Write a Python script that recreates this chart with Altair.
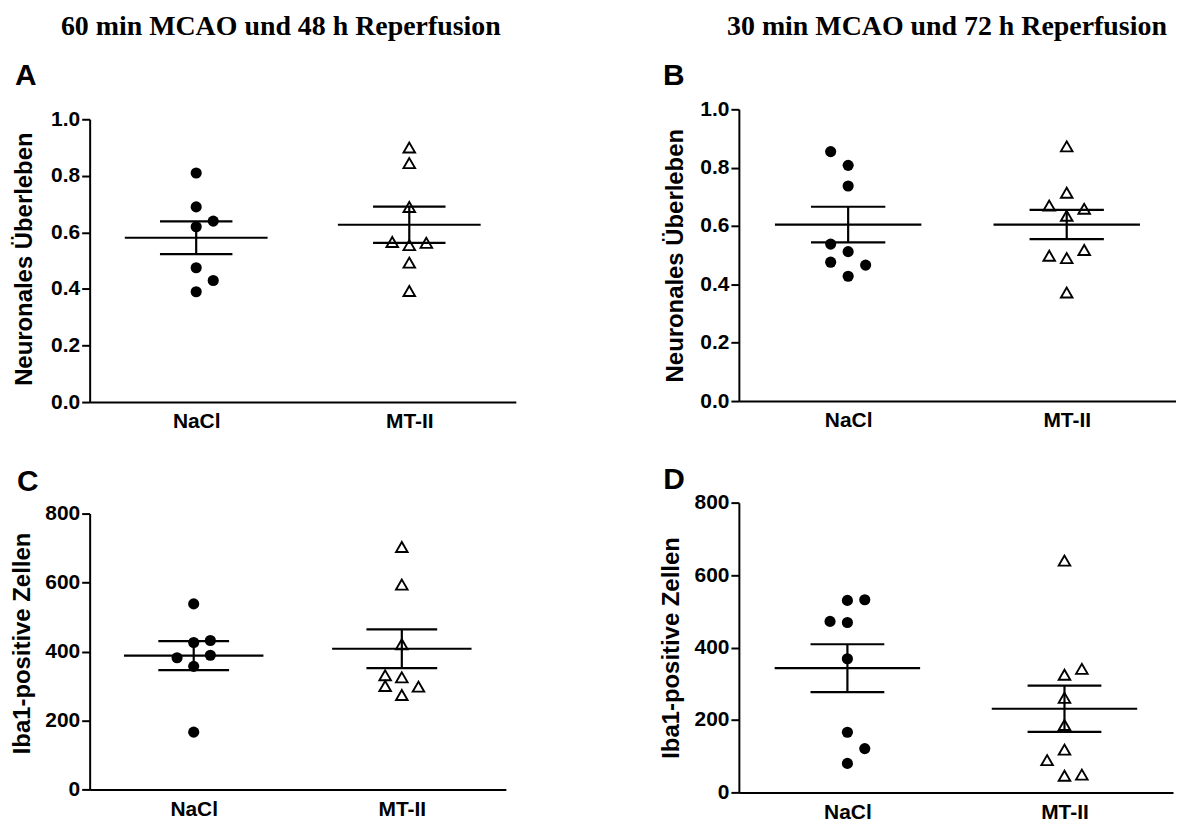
import altair as alt
import pandas as pd

GROUPS = ["NaCl", "MT-II"]
LETTERS = ["A", "B", "C", "D"]
COL_TITLES = ["60 min MCAO und 48 h Reperfusion", "30 min MCAO und 72 h Reperfusion"]
Y_TITLES = ["Neuronales Überleben", "Iba1-positive Zellen"]
Y_TICKS_SURV = [0.0, 0.2, 0.4, 0.6, 0.8, 1.0]
Y_TICKS_IBA = [0, 200, 400, 600, 800]

# ---- Panel A: 60 min MCAO, Neuronales Überleben ----
A_nacl = [0.81, 0.69, 0.64, 0.62, 0.475, 0.43, 0.39]
A_nacl_slot = [0, 0, 1, 0, 0, 1, 0]
A_mt = [0.90, 0.845, 0.69, 0.566, 0.555, 0.563, 0.493, 0.393]
A_mt_slot = [0, 0, 0, -1, 0, 1, 0, 0]
A_mean = [0.581, 0.627]
A_sem = [0.058, 0.064]

# ---- Panel B: 30 min MCAO, Neuronales Überleben ----
B_nacl = [0.855, 0.808, 0.737, 0.538, 0.512, 0.476, 0.466, 0.428]
B_nacl_slot = [-1, 0, 0, -1, 0, -1, 1, 0]
B_mt = [0.873, 0.714, 0.670, 0.659, 0.635, 0.518, 0.498, 0.490, 0.372]
B_mt_slot = [0, 0, -1, 1, 0, 1, -1, 0, 0]
B_mean = [0.605, 0.605]
B_sem = [0.061, 0.050]

# ---- Panel C: 60 min MCAO, Iba1-positive Zellen ----
C_nacl = [538, 426, 432, 382, 389, 357, 166]
C_nacl_slot = [0, 0, 1, -1, 1, 0, 0]
C_mt = [703, 594, 421, 331, 325, 300, 298, 274]
C_mt_slot = [0, 0, 0, -1, 0, -1, 1, 0]
C_mean = [388, 408]
C_sem = [42, 56]

# ---- Panel D: 30 min MCAO, Iba1-positive Zellen ----
D_nacl = [530, 532, 472, 469, 369, 166, 121, 80]
D_nacl_slot = [0, 1, -1, 0, 0, 0, 1, 0]
D_mt = [640, 341, 325, 261, 186, 118, 89, 46, 49]
D_mt_slot = [0, 1, 0, 0, 0, 0, -1, 0, 1]
D_mean = [343, 231]
D_sem = [66, 64]

SANS = "Liberation Sans"
SERIF = "Liberation Serif"
SLOT_W = 0.08
MEAN_HW = 0.335
CAP_HW = 0.17


def make_panel(letter, nacl, nacl_slot, mt, mt_slot, mean, sem, ytitle, yticks, yfmt,
               width, height, top_gap, letter_xy, title_x, title_y=None,
               col_title=None, col_xy=None):
    pts = pd.DataFrame({
        "g": [1] * len(nacl) + [2] * len(mt),
        "v": nacl + mt,
        "slot": nacl_slot + mt_slot,
    })
    summ = pd.DataFrame({"g": [1, 2], "m": mean, "s": sem})

    xscale = alt.Scale(domain=[0.5, 2.5], nice=False, zero=False)
    yscale = alt.Scale(domain=[yticks[0], yticks[-1]], nice=False, zero=True,
                       range=[height, top_gap])
    xaxis = alt.Axis(values=[1, 2], ticks=False, tickSize=0, labelPadding=9, title=None,
                     labelExpr=f"datum.value == 1 ? '{GROUPS[0]}' : '{GROUPS[1]}'",
                     labelFontSize=21, grid=False)
    yargs = dict(values=yticks, format=yfmt, title=ytitle, titleX=title_x,
                 titleBaseline="alphabetic", titleAngle=270, titleFontSize=24,
                 tickSize=8, labelPadding=2, labelFontSize=21, grid=False)
    if title_y is not None:
        yargs["titleY"] = title_y
    yaxis = alt.Axis(**yargs)

    base_pts = alt.Chart(pts).transform_calculate(xp=f"datum.g + datum.slot * {SLOT_W}")
    circles = base_pts.transform_filter("datum.g == 1").mark_circle(
        size=125, color="black", opacity=1).encode(
        x=alt.X("xp:Q", scale=xscale, axis=xaxis),
        y=alt.Y("v:Q", scale=yscale, axis=yaxis))
    tris = base_pts.transform_filter("datum.g == 2").mark_point(
        shape="triangle-up", filled=False, color="black", strokeWidth=1.9, size=135,
        opacity=1).encode(
        x=alt.X("xp:Q", scale=xscale, axis=xaxis),
        y=alt.Y("v:Q", scale=yscale, axis=yaxis))

    base_s = alt.Chart(summ).transform_calculate(
        hi="datum.m + datum.s", lo="datum.m - datum.s",
        xl=f"datum.g - {MEAN_HW}", xr=f"datum.g + {MEAN_HW}",
        cl=f"datum.g - {CAP_HW}", cr=f"datum.g + {CAP_HW}")
    rule = dict(color="black", strokeWidth=2.2)
    mean_line = base_s.mark_rule(**rule).encode(
        x=alt.X("xl:Q", scale=xscale, axis=xaxis), x2="xr:Q",
        y=alt.Y("m:Q", scale=yscale, axis=yaxis))
    cap_hi = base_s.mark_rule(**rule).encode(
        x=alt.X("cl:Q", scale=xscale, axis=xaxis), x2="cr:Q",
        y=alt.Y("hi:Q", scale=yscale, axis=yaxis))
    cap_lo = base_s.mark_rule(**rule).encode(
        x=alt.X("cl:Q", scale=xscale, axis=xaxis), x2="cr:Q",
        y=alt.Y("lo:Q", scale=yscale, axis=yaxis))
    vert = base_s.mark_rule(**rule).encode(
        x=alt.X("g:Q", scale=xscale, axis=xaxis),
        y=alt.Y("lo:Q", scale=yscale, axis=yaxis), y2="hi:Q")

    letter_txt = alt.Chart(pd.DataFrame({"t": [letter]})).mark_text(
        font=SANS, fontSize=30, fontWeight="bold", color="black",
        align="left", baseline="alphabetic").encode(
        text="t:N", x=alt.value(letter_xy[0]), y=alt.value(letter_xy[1]))

    layers = [circles, tris, vert, cap_hi, cap_lo, mean_line, letter_txt]
    if col_title is not None:
        col_txt = alt.Chart(pd.DataFrame({"t": [col_title]})).mark_text(
            font=SERIF, fontSize=28, fontWeight="bold", color="black",
            align="center", baseline="alphabetic").encode(
            text="t:N", x=alt.value(col_xy[0]), y=alt.value(col_xy[1]))
        layers.append(col_txt)

    return alt.layer(*layers).properties(width=width, height=height)


pA = make_panel(LETTERS[0], A_nacl, A_nacl_slot, A_mt, A_mt_slot, A_mean, A_sem,
                Y_TITLES[0], Y_TICKS_SURV, ".1f", 428, 294, 10, (-75, -24.4), -58.5,
                title_y=150, col_title=COL_TITLES[0], col_xy=(192, -74.2))
pB = make_panel(LETTERS[1], B_nacl, B_nacl_slot, B_mt, B_mt_slot, B_mean, B_sem,
                Y_TITLES[0], Y_TICKS_SURV, ".1f", 439, 293, 0, (-76.3, -24.4), -57,
                col_title=COL_TITLES[1], col_xy=(209, -75))
pC = make_panel(LETTERS[2], C_nacl, C_nacl_slot, C_mt, C_mt_slot, C_mean, C_sem,
                Y_TITLES[1], Y_TICKS_IBA, "d", 418, 288, 11, (-73, -11.7), -60,
                title_y=141)
pD = make_panel(LETTERS[3], D_nacl, D_nacl_slot, D_mt, D_mt_slot, D_mean, D_sem,
                Y_TITLES[1], Y_TICKS_IBA, "d", 436, 291, 0, (-76, -13.4), -61)

chart = alt.concat(pA, pB, pC, pD, columns=2,
                   spacing={"row": 33, "column": 143}).properties(
    padding={"left": 2, "top": 3, "right": 0, "bottom": 0}
).configure_view(stroke=None).configure_axis(
    domainColor="black", domainWidth=2, tickColor="black", tickWidth=2,
    labelFont=SANS, labelFontWeight="bold", labelColor="black",
    titleFont=SANS, titleFontWeight="bold", titleColor="black"
)

chart.save("out.html", embed_options={"renderer": "svg", "actions": False})
